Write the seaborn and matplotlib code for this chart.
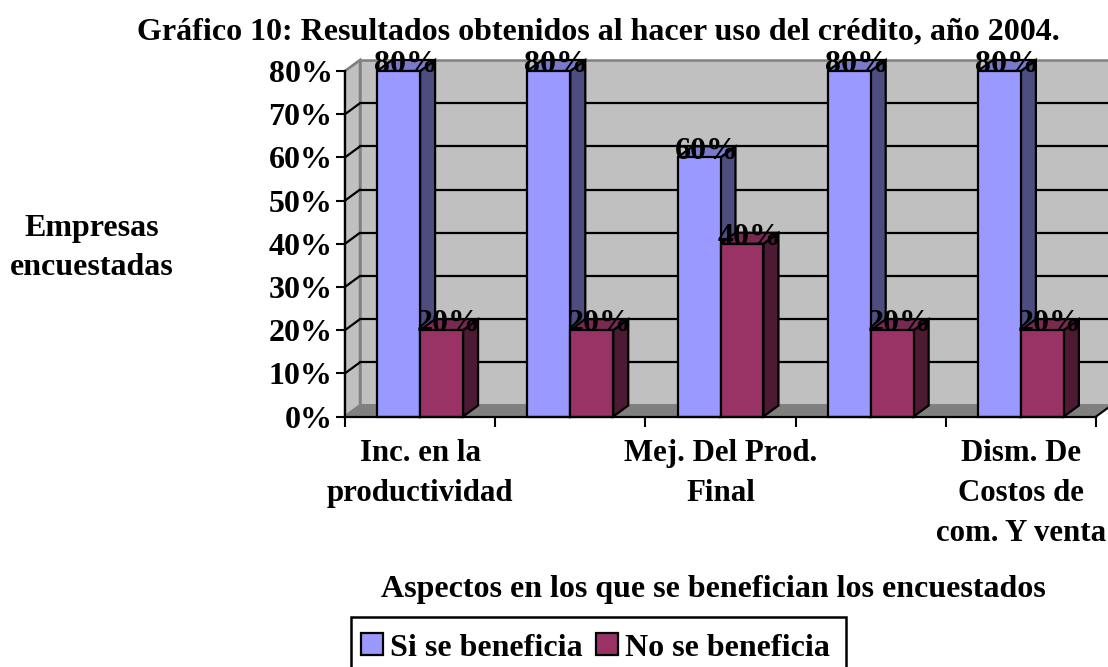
import matplotlib
matplotlib.use("Agg")
import matplotlib.pyplot as plt
import pandas as pd
import seaborn as sns
from matplotlib.patches import Polygon, Rectangle

categories = ["Inc. en la\nproductividad", "Aspecto 2", "Mej. Del Prod.\nFinal", "Aspecto 4",
              "Dism. De\nCostos de\ncom. Y venta"]
tick_labels = ["Inc. en la\nproductividad", "", "Mej. Del Prod.\nFinal", "", "Dism. De\nCostos de\ncom. Y venta"]
si_values = [80, 80, 60, 80, 80]
no_values = [20, 20, 40, 20, 20]
series_names = ["Si se beneficia", "No se beneficia"]
y_ticks = [0, 10, 20, 30, 40, 50, 60, 70, 80]

W, H = 1108, 667
L, R, T, B = 345, 1096, 71, 416.5
FONT = "Liberation Serif"

sns.set_theme(style="white")
plt.rcParams["font.family"] = [FONT, "DejaVu Sans"]
plt.rcParams["font.weight"] = "bold"
plt.rcParams["text.color"] = "black"

df = pd.DataFrame({
    "cat": categories * 2,
    "val": si_values + no_values,
    "serie": [series_names[0]] * 5 + [series_names[1]] * 5,
})

fig = plt.figure(figsize=(W / 100, H / 100), dpi=100)
ax = fig.add_axes([L / W, 1 - B / H, (R - L) / W, (B - T) / H])
colors = {series_names[0]: "#9999FF", series_names[1]: "#993366"}
side = {series_names[0]: "#4D4D80", series_names[1]: "#4D1A33"}
top = {series_names[0]: "#7A7ACC", series_names[1]: "#7A2952"}
sns.barplot(data=df, x="cat", y="val", hue="serie", order=categories, hue_order=series_names,
            palette=colors, width=0.572, saturation=1, edgecolor="black", linewidth=1.6,
            dodge=True, ax=ax, legend=False, zorder=4)
ax.set_xlim(-0.5, 4.5)
ax.set_ylim(0, 80)
ax.patch.set_visible(False)

# depth of the fake 3D box, in data units
dx = 15 / ((R - L) / 5)
dy = 11 / ((B - T) / 80)
x0, x1 = -0.5, 4.5
wall_kw = dict(clip_on=False, linewidth=1.8, joinstyle="miter")
ax.add_patch(Polygon([(x0, 0), (x0, 80), (x0 + dx, 80 + dy), (x0 + dx, dy)], fc="#C0C0C0", ec="#808080", zorder=0.5, **wall_kw))
ax.add_patch(Rectangle((x0 + dx, dy), x1 - x0, 80, fc="#C0C0C0", ec="#808080", zorder=0.6, **wall_kw))
ax.add_patch(Polygon([(x0, 0), (x1, 0), (x1 + dx, dy), (x0 + dx, dy)], fc="#808080", ec="#808080", zorder=0.7, **wall_kw))
ax.plot([x1, x1 + dx], [0, dy], color="black", lw=1.4, clip_on=False, zorder=0.9)
ax.plot([x0, x0 + dx], [0, dy], color="#808080", lw=1.4, clip_on=False, zorder=0.9)
for v in y_ticks[1:-1]:
    ax.plot([x0 + dx, x1 + dx], [v + dy, v + dy], color="black", lw=1.6, clip_on=False, zorder=0.8)
    ax.plot([x0, x0 + dx], [v, v + dy], color="black", lw=1.6, clip_on=False, zorder=0.8)
ax.plot([x0, x0 + dx], [80, 80 + dy], color="#808080", lw=1.5, clip_on=False, zorder=0.8)

# side and top faces + value labels, derived from the seaborn bars
n = len(categories)
names = series_names[0:1] * n + series_names[1:2] * n
edge = dict(ec="black", lw=1.6, clip_on=False, joinstyle="miter")
for bar, name in zip(ax.patches[:2 * n], names):
    xa, w, h = bar.get_x(), bar.get_width(), bar.get_height()
    xb = xa + w
    z = 2 if name == series_names[0] else 3
    ax.add_patch(Polygon([(xb, 0), (xb + dx, dy), (xb + dx, h + dy), (xb, h)], fc=side[name], zorder=z, **edge))
    ax.add_patch(Polygon([(xa, h), (xb, h), (xb + dx, h + dy), (xa + dx, h + dy)], fc=top[name], zorder=z, **edge))
    bar.set_clip_on(False)
    ax.text(xa + w / 2 + dx / 2, h - 0.3, f"{h:.0f}%", ha="center", va="baseline", fontsize=23,
            fontweight="bold", color="black", zorder=6, clip_on=False)

for s in ["top", "right"]:
    ax.spines[s].set_visible(False)
for s in ["left", "bottom"]:
    ax.spines[s].set_visible(True)
    ax.spines[s].set_color("black")
    ax.spines[s].set_linewidth(1.6)
    ax.spines[s].set_zorder(5)

ax.set_yticks(y_ticks)
ax.set_yticklabels([f"{v}%" for v in y_ticks], fontsize=23, fontweight="bold", color="black")
ax.tick_params(axis="y", length=6.5, width=1.5, color="black", left=True, pad=2.5)
ax.set_xticks(range(n))
ax.set_xticklabels(tick_labels, fontsize=22.2, fontweight="bold", color="black", linespacing=1.5)
ax.set_xticks([i - 0.5 for i in range(n + 1)], minor=True)
ax.tick_params(axis="x", which="major", length=0, pad=16)
ax.tick_params(axis="x", which="minor", length=7, width=1.5, color="black", bottom=True)
ax.set_xlabel("")
ax.set_ylabel("")

fig.text(598 / W, 1 - 32 / H, "Gráfico 10: Resultados obtenidos al hacer uso del crédito, año 2004.",
         ha="center", va="center", fontsize=23, fontweight="bold", color="black")
fig.text(92 / W, 1 - 248 / H, "Empresas\nencuestadas", ha="center", va="center", fontsize=23,
         fontweight="bold", color="black", linespacing=1.47)
fig.text(713 / W, 1 - 589 / H, "Aspectos en los que se benefician los encuestados", ha="center", va="center",
         fontsize=23, fontweight="bold", color="black")

# legend frame runs off the bottom of the picture, as in the reference
fig.add_artist(Rectangle((351 / W, 1 - 680 / H), (846 - 351) / W, (680 - 617) / H, transform=fig.transFigure,
                         fc="white", ec="black", lw=1.8, clip_on=True))
handles = [Rectangle((0, 0), 1, 1, fc=colors[s], ec="black", lw=1.6) for s in series_names]
leg = fig.legend(handles, series_names, loc="upper left", bbox_to_anchor=(348 / W, 1 - 620 / H),
                 bbox_transform=fig.transFigure, ncol=2, frameon=False, borderaxespad=0, borderpad=0.42,
                 handlelength=0.68, handleheight=0.68, handletextpad=0.22, columnspacing=0.42,
                 prop={"family": FONT, "weight": "bold", "size": 23})
for t in leg.get_texts():
    t.set_color("black")

fig.savefig("out.png", dpi=100)
